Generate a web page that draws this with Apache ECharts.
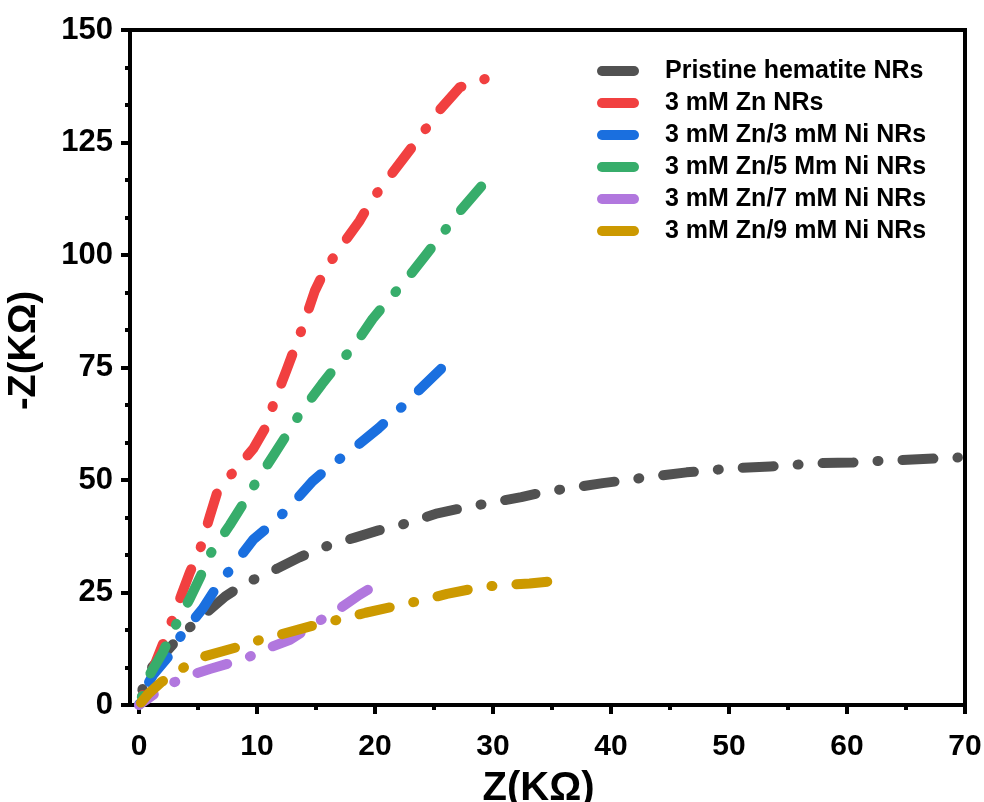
<!DOCTYPE html>
<html>
<head>
<meta charset="utf-8">
<script src="https://cdn.jsdelivr.net/npm/echarts@6/dist/echarts.min.js"></script>
<style>
  html, body { margin: 0; padding: 0; background: #fff; }
  #chart { width: 984px; height: 802px; }
</style>
</head>
<body>
<div id="chart"></div>
<script>
// Nyquist plot, values (Z in kΩ)
const seriesNames = [
  'Pristine hematite NRs',
  '3 mM Zn NRs',
  '3 mM Zn/3 mM Ni NRs',
  '3 mM Zn/5 Mm Ni NRs',
  '3 mM Zn/7 mM Ni NRs',
  '3 mM Zn/9 mM Ni NRs',
]
const seriesColors = ['#515151', '#f14040', '#1a6fdf', '#37ad6b', '#b177de', '#cc9900']
// how each trace ends in the picture: on a dot or at the end of a dash
const seriesEndsOn = ['dot', 'dot', 'dash', 'dash', 'dash', 'dash']

const pristine = [[0,0],[0.3,3.5],[0.8,7.5],[2.2,11.5],[3.6,15.6],[5.8,20.7],[7.3,24.1],[9.0,27],[11.7,30.3],[13.6,32.8],[15.3,34.8],[18.3,37.2],[20.3,38.8],[22.3,40.1],[25.3,42.6],[27.1,43.6],[29.1,44.6],[32.4,46.2],[34.1,47.2],[35.8,47.9],[39.3,49.3],[41.1,49.9],[43,50.6],[46.4,51.7],[48.1,52],[50,52.6],[53.5,53],[55.3,53.3],[57,53.7],[60.5,53.9],[62.3,54.2],[64.2,54.4],[67.7,54.8],[69.4,55]]
const zn3 = [[0,0],[0.5,3.5],[1.1,7.4],[2.5,16.7],[3.6,24.5],[4.3,29.4],[5.2,34.8],[6.0,41.9],[6.6,47],[7.9,51.5],[9.7,57],[10.8,62],[11.4,66.9],[12.5,74.4],[13.2,79.3],[13.9,84.2],[14.9,92],[15.8,96.9],[17,101.4],[18.7,107.6],[19.8,112.5],[21,116.6],[22.8,122.8],[24.1,127.3],[25.3,131.7],[27.2,137.3],[29.3,139.1]]
const zn3ni3 = [[0,0],[0.5,3.5],[1.2,6.7],[2.6,11.1],[3.6,15.6],[5.4,21.4],[6.6,26.3],[8.0,31],[9.7,36.8],[11.3,40.3],[12.8,44.1],[14.7,49.7],[16.4,53.5],[18.1,56.8],[20.3,61.5],[21.9,65.3],[23.4,69.1],[25.6,74.7]]
const zn3ni5 = [[0,0],[0.4,3],[0.9,6.7],[2.0,11.6],[2.9,16.7],[4.3,23.6],[5.2,28.5],[6.1,33.8],[7.7,40],[8.8,44.6],[9.8,49],[11.5,55.9],[12.6,60.4],[13.6,64.6],[15.5,71.3],[16.8,75.6],[18.1,79.3],[19.8,85.8],[21.3,90.5],[22.5,94],[24.4,100.3],[25.7,104.7],[26.9,108.8],[29,115.2]]
const zn3ni7 = [[0,0],[0.7,1.3],[1.5,2.8],[2.5,4.5],[4.2,6.5],[6,8],[9,10.3],[10.8,12.5],[12.8,14.5],[15.3,18.7],[17.1,21.6],[18.7,24.5],[19.4,25.6]]
const zn3ni9 = [[0,0],[0.8,2.5],[1.9,5.1],[3.7,8.2],[5.4,10.7],[8.4,12.9],[10.3,14.5],[12.2,15.8],[15.4,18.1],[17.3,19.2],[19.2,20.5],[22.3,22.3],[24.2,23.4],[26.1,24.7],[29.2,26.3],[31.2,26.7],[33.1,27],[34.6,27.4]]
const seriesData = [pristine, zn3, zn3ni3, zn3ni5, zn3ni7, zn3ni9]

const xMajorTicks = [0, 10, 20, 30, 40, 50, 60, 70]
const xMinorTicks = [5, 15, 25, 35, 45, 55, 65]

// dash-dot pattern: dash, gap, dot, gap (round caps make the dot round)
const DASH = [31, 24, 1, 24]
const FONT = 'Liberation Sans'
const chart = echarts.init(document.getElementById('chart'))

function makeSeries(offsets) {
  return seriesNames.map((name, i) => ({
    name,
    type: 'line',
    data: seriesData[i],
    color: seriesColors[i],
    showSymbol: false,
    symbol: 'none',
    smooth: false,
    z: 2 + i,
    lineStyle: {
      color: seriesColors[i],
      width: 10,
      type: DASH,
      dashOffset: offsets ? offsets[i] : 0,
      cap: 'round',
      join: 'round',
    },
  }))
}

chart.setOption({
  animation: false,
  grid: {
    left: 130, right: 19, top: 30, bottom: 97,
    outerBoundsMode: 'none',
    containLabel: false,
    show: true, borderColor: '#000', borderWidth: 4, backgroundColor: 'transparent',
  },
  legend: {
    data: seriesNames,
    orient: 'vertical',
    left: 597,
    top: 56,
    padding: 0,
    itemWidth: 42,
    itemHeight: 10,
    itemGap: 2,
    icon: 'path://M5,0 H37 A5,5 0 0 1 37,10 H5 A5,5 0 0 1 5,0 Z',
    textStyle: {
      fontFamily: FONT, fontWeight: 'bold', fontSize: 25, color: '#000',
      lineHeight: 30, padding: [0, 0, 0, 21],
    },
  },
  xAxis: [
    {
      type: 'value',
      min: -0.76,
      max: 70,
      name: 'Z(KΩ)',
      nameLocation: 'middle',
      nameGap: 64,
      nameTextStyle: {
        fontFamily: FONT, fontWeight: 'bold', fontSize: 40, color: '#000',
        padding: [0, 18, 0, 0],
      },
      axisLine: { show: true, onZero: false, lineStyle: { color: '#000', width: 4 } },
      axisTick: { show: true, customValues: xMajorTicks, length: 9, lineStyle: { color: '#000', width: 4 } },
      axisLabel: {
        customValues: xMajorTicks, margin: 27,
        fontFamily: FONT, fontWeight: 'bold', fontSize: 30, color: '#000',
      },
      splitLine: { show: false },
    },
    {
      // minor ticks only
      type: 'value',
      position: 'bottom',
      min: -0.76,
      max: 70,
      axisLine: { show: false },
      axisTick: { show: true, customValues: xMinorTicks, length: 5, lineStyle: { color: '#000', width: 4 } },
      axisLabel: { show: false },
      splitLine: { show: false },
    },
  ],
  yAxis: {
    type: 'value',
    min: 0,
    max: 150,
    interval: 25,
    name: '-Z(KΩ)',
    nameLocation: 'middle',
    nameRotate: 90,
    nameGap: 86,
    nameTextStyle: {
      fontFamily: FONT, fontWeight: 'bold', fontSize: 38, color: '#000',
      padding: [0, 0, 0, 34],
    },
    axisLine: { show: true, onZero: false, lineStyle: { color: '#000', width: 4 } },
    axisTick: { show: true, length: 9, lineStyle: { color: '#000', width: 4 } },
    minorTick: { show: true, splitNumber: 3, length: 5, lineStyle: { color: '#000', width: 4 } },
    axisLabel: { margin: 17, fontFamily: FONT, fontWeight: 'bold', fontSize: 31, color: '#000' },
    splitLine: { show: false },
  },
  series: makeSeries(null),
})

// shift each dash pattern so the trace ends the way it does in the picture
const period = DASH.reduce((a, b) => a + b, 0)
const offsets = seriesData.map((pts, i) => {
  let len = 0
  let prev = chart.convertToPixel({ xAxisIndex: 0, yAxisIndex: 0 }, pts[0])
  for (let k = 1; k < pts.length; k++) {
    const p = chart.convertToPixel({ xAxisIndex: 0, yAxisIndex: 0 }, pts[k])
    len += Math.hypot(p[0] - prev[0], p[1] - prev[1])
    prev = p
  }
  const target = seriesEndsOn[i] === 'dot' ? DASH[0] + DASH[1] + DASH[2] / 2 : DASH[0]
  return (((target - len) % period) + period) % period
})
chart.setOption({ series: makeSeries(offsets) })
</script>
</body>
</html>
